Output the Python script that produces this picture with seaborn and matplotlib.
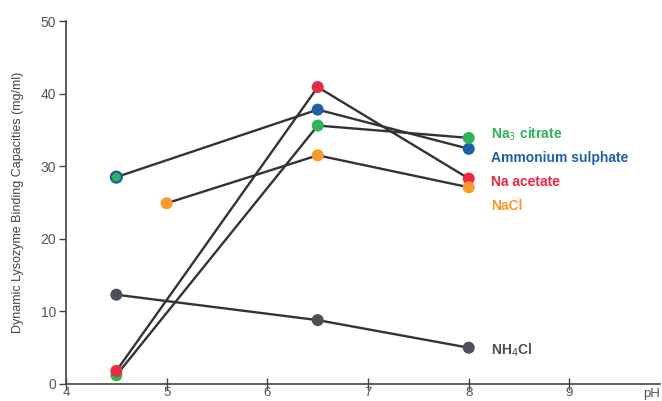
import matplotlib
matplotlib.use("Agg")
import matplotlib.pyplot as plt
import seaborn as sns
import pandas as pd

sns.set_style("white")
plt.rcParams['font.family'] = ['Liberation Sans Narrow', 'Liberation Sans', 'DejaVu Sans']

series = ["Na$_3$ citrate", "Ammonium sulphate", "Na acetate", "NaCl", "NH$_4$Cl"]
colors = ["#2fb457", "#1f5fa8", "#ea2a45", "#f8992a", "#4b5058"]
ph_citrate = [4.5, 6.5, 8]
val_citrate = [1.2, 35.6, 33.9]
ph_ammsulph = [4.5, 6.5, 8]
val_ammsulph = [28.5, 37.8, 32.4]
ph_acetate = [4.5, 6.5, 8]
val_acetate = [1.8, 40.9, 28.3]
ph_nacl = [5, 6.5, 8]
val_nacl = [24.9, 31.5, 27.1]
ph_nh4cl = [4.5, 6.5, 8]
val_nh4cl = [12.3, 8.8, 5.0]
label_y = [34.4, 31.1, 27.8, 24.5, 4.6]
x_ticks = [4, 5, 6, 7, 8, 9]
y_ticks = [0, 10, 20, 30, 40, 50]

phs = [ph_citrate, ph_ammsulph, ph_acetate, ph_nacl, ph_nh4cl]
vals = [val_citrate, val_ammsulph, val_acetate, val_nacl, val_nh4cl]
rows = []
for s, p, v in zip(series, phs, vals):
    for pp, vv in zip(p, v):
        rows.append({"series": s, "pH": pp, "dbc": vv})
df = pd.DataFrame(rows)

fig = plt.figure(figsize=(6.62, 4.01), dpi=100)
ax = fig.add_axes([0.0997, 0.0424, 0.8973, 0.9052])

sns.lineplot(data=df, x="pH", y="dbc", units="series", estimator=None,
             color="#333333", lw=1.7, ax=ax, sort=False, legend=False)
# stacked point at pH 4.5 (ammonium sulphate + citrate marker)
sns.scatterplot(x=[ph_ammsulph[0]], y=[val_ammsulph[0]], color=colors[1], s=90,
                edgecolor="none", ax=ax, legend=False, zorder=3)
order = [1, 0, 2, 3, 4]
for i in order:
    sub = df[df.series == series[i]]
    sns.scatterplot(data=sub, x="pH", y="dbc", color=colors[i], s=75,
                    edgecolor="none", ax=ax, legend=False, zorder=4)
sns.scatterplot(x=[ph_ammsulph[0]], y=[val_ammsulph[0]], color=colors[0], s=38,
                edgecolor="none", ax=ax, legend=False, zorder=5)

for s, c, ly in zip(series, colors, label_y):
    ax.text(8.22, ly, s, color=c, fontsize=10, fontweight="bold", va="center", ha="left")

ax.set_xlim(4, 9.9)
ax.set_ylim(0, 50)
ax.set_xticks(x_ticks)
ax.set_yticks(y_ticks)
ax.set_xlabel("")
ax.set_ylabel("Dynamic Lysozyme Binding Capacities (mg/ml)", fontsize=9, color="#444444", labelpad=12)
ax.text(9.9, -0.6, "pH", fontsize=9.5, color="#555555", ha="right", va="top")
for side in ["top", "right"]:
    ax.spines[side].set_visible(False)
for side in ["left", "bottom"]:
    ax.spines[side].set_color("#444444")
    ax.spines[side].set_linewidth(1.2)
ax.tick_params(axis="y", direction="out", length=5, width=1, color="#444444",
               labelsize=10, labelcolor="#555555", pad=2, left=True)
ax.tick_params(axis="x", direction="inout", length=8, width=1, color="#444444",
               labelsize=9.5, labelcolor="#555555", pad=-2, bottom=True)
ax.set_facecolor("white")
fig.savefig("out.png", dpi=100)
